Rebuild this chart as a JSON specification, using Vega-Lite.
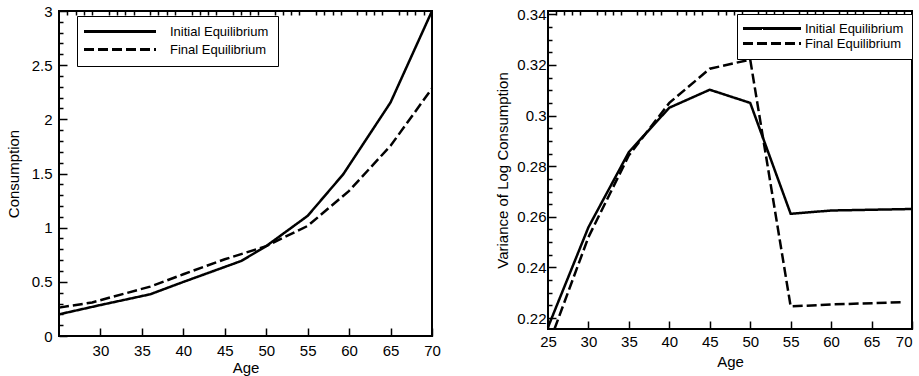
{
  "$schema": "https://vega.github.io/schema/vega-lite/v6.json",
  "background": "white",
  "padding": {"left": 5, "top": 3, "right": 5, "bottom": 5},
  "config": {
    "font": "Liberation Sans",
    "view": {"stroke": "black", "strokeWidth": 2, "fill": "transparent", "fillOpacity": 0},
    "style": {"cell": {"fill": "transparent", "fillOpacity": 0}},
    "axis": {"domain": false, "zindex": 1, "tickColor": "black", "tickOpacity": 1, "gridColor": "black", "gridOpacity": 1, "gridWidth": 1.5, "labelColor": "black", "titleColor": "black", "titleFontWeight": "normal", "labelFont": "Liberation Sans", "titleFont": "Liberation Sans"},
    "legend": {"labelFont": "Liberation Sans", "labelColor": "black"}
  },
  "datasets": {
    "cons": [
      {"age": 25, "value": 0.20, "series": "Initial Equilibrium"},
      {"age": 30, "value": 0.286, "series": "Initial Equilibrium"},
      {"age": 36, "value": 0.385, "series": "Initial Equilibrium"},
      {"age": 40, "value": 0.499, "series": "Initial Equilibrium"},
      {"age": 47, "value": 0.693, "series": "Initial Equilibrium"},
      {"age": 50, "value": 0.83, "series": "Initial Equilibrium"},
      {"age": 55, "value": 1.109, "series": "Initial Equilibrium"},
      {"age": 59.3, "value": 1.494, "series": "Initial Equilibrium"},
      {"age": 65, "value": 2.156, "series": "Initial Equilibrium"},
      {"age": 70, "value": 3.0, "series": "Initial Equilibrium"},
      {"age": 25, "value": 0.262, "series": "Final Equilibrium"},
      {"age": 29, "value": 0.31, "series": "Final Equilibrium"},
      {"age": 36, "value": 0.456, "series": "Final Equilibrium"},
      {"age": 40, "value": 0.57, "series": "Final Equilibrium"},
      {"age": 45, "value": 0.708, "series": "Final Equilibrium"},
      {"age": 50, "value": 0.83, "series": "Final Equilibrium"},
      {"age": 55, "value": 1.016, "series": "Final Equilibrium"},
      {"age": 60, "value": 1.34, "series": "Final Equilibrium"},
      {"age": 65, "value": 1.756, "series": "Final Equilibrium"},
      {"age": 70, "value": 2.285, "series": "Final Equilibrium"}
    ],
    "var": [
      {"age": 25, "value": 0.2164, "series": "Initial Equilibrium"},
      {"age": 30, "value": 0.2559, "series": "Initial Equilibrium"},
      {"age": 35, "value": 0.2856, "series": "Initial Equilibrium"},
      {"age": 40, "value": 0.3031, "series": "Initial Equilibrium"},
      {"age": 45, "value": 0.3102, "series": "Initial Equilibrium"},
      {"age": 50, "value": 0.305, "series": "Initial Equilibrium"},
      {"age": 55, "value": 0.2612, "series": "Initial Equilibrium"},
      {"age": 60, "value": 0.2625, "series": "Initial Equilibrium"},
      {"age": 70, "value": 0.2631, "series": "Initial Equilibrium"},
      {"age": 25.8, "value": 0.2157, "series": "Final Equilibrium"},
      {"age": 30, "value": 0.252, "series": "Final Equilibrium"},
      {"age": 35, "value": 0.2843, "series": "Final Equilibrium"},
      {"age": 40, "value": 0.305, "series": "Final Equilibrium"},
      {"age": 45, "value": 0.3185, "series": "Final Equilibrium"},
      {"age": 50, "value": 0.3221, "series": "Final Equilibrium"},
      {"age": 55, "value": 0.2246, "series": "Final Equilibrium"},
      {"age": 60, "value": 0.2254, "series": "Final Equilibrium"},
      {"age": 69, "value": 0.2263, "series": "Final Equilibrium"}
    ]
  },
  "hconcat": [
    {
      "width": 373,
      "height": 325,
      "data": {"name": "cons"},
      "layer": [
        {
          "mark": {"type": "line", "color": "black", "strokeWidth": 2.5},
          "encoding": {
            "x": {"field": "age", "type": "quantitative", "scale": {"domain": [25, 70], "nice": false, "zero": false},
              "axis": {"title": "Age", "orient": "bottom", "zindex": 1, "values": [30, 35, 40, 45, 50, 55, 60, 65, 70], "grid": false, "offset": -8, "tickSize": 8, "tickWidth": 1.5, "labelFontSize": 15, "titleFontSize": 15, "labelPadding": 7, "titlePadding": 2, "labelFlush": false}},
            "y": {"field": "value", "type": "quantitative", "scale": {"domain": [0, 3], "nice": false},
              "axis": {"title": "Consumption", "orient": "left", "zindex": 1, "values": [0, 0.5, 1, 1.5, 2, 2.5, 3], "format": "~g", "grid": false, "offset": -8, "tickSize": 8, "tickWidth": 1.5, "labelFontSize": 15, "titleFontSize": 15, "labelPadding": 7, "titlePadding": 10}},
            "strokeDash": {"field": "series", "type": "nominal", "sort": ["Initial Equilibrium", "Final Equilibrium"],
              "scale": {"domain": ["Initial Equilibrium", "Final Equilibrium"], "range": [[1, 0], [10, 4]]},
              "legend": {"title": null, "orient": "none", "legendX": 18, "legendY": 5, "strokeColor": "black", "fillColor": "white", "padding": 9, "symbolType": "M-8,0H8", "symbolSize": 81, "symbolOffset": 27.5, "symbolStrokeWidth": 3, "symbolStrokeColor": "black", "labelFontSize": 13, "labelOffset": 43.5, "rowPadding": 4, "zindex": 2}}
          }
        },
        {
          "mark": {"type": "line", "strokeOpacity": 0},
          "encoding": {
            "x": {"field": "age", "type": "quantitative",
              "axis": {"title": null, "orient": "bottom", "zindex": 1, "values": [26,27,28,29,31,32,33,34,36,37,38,39,41,42,43,44,46,47,48,49,51,52,53,54,56,57,58,59,61,62,63,64,66,67,68,69], "labels": false, "ticks": false, "grid": true, "gridDash": [4, 2000]}},
            "y": {"field": "value", "type": "quantitative",
              "axis": {"title": null, "orient": "left", "zindex": 1, "values": [0.1,0.2,0.3,0.4,0.6,0.7,0.8,0.9,1.1,1.2,1.3,1.4,1.6,1.7,1.8,1.9,2.1,2.2,2.3,2.4,2.6,2.7,2.8,2.9], "labels": false, "ticks": false, "grid": true, "gridDash": [4, 2000]}}
          }
        }
      ],
      "resolve": {"axis": {"x": "independent", "y": "independent"}}
    },
    {
      "width": 364,
      "height": 318,
      "data": {"name": "var"},
      "layer": [
        {
          "mark": {"type": "line", "color": "black", "strokeWidth": 2.5},
          "encoding": {
            "x": {"field": "age", "type": "quantitative", "scale": {"domain": [25, 70], "nice": false, "zero": false},
              "axis": {"title": "Age", "orient": "bottom", "zindex": 1, "values": [25, 30, 35, 40, 45, 50, 55, 60, 65, 70], "grid": false, "offset": -8, "tickSize": 8, "tickWidth": 1.5, "labelFontSize": 15, "titleFontSize": 15, "labelPadding": 5, "titlePadding": 5, "labelFlush": false, "labelAlign": {"condition": {"test": "datum.value == 70", "value": "right"}, "value": "center"}}},
            "y": {"field": "value", "type": "quantitative", "scale": {"domain": [0.2157, 0.3413], "nice": false, "zero": false},
              "axis": {"title": "Variance of Log Consumption", "orient": "left", "zindex": 1, "values": [0.22, 0.24, 0.26, 0.28, 0.3, 0.32, 0.34], "format": "~g", "grid": false, "offset": -8, "tickSize": 8, "tickWidth": 1.5, "labelFontSize": 15, "titleFontSize": 15, "labelPadding": 2, "titlePadding": 6}},
            "strokeDash": {"field": "series", "type": "nominal", "sort": ["Initial Equilibrium", "Final Equilibrium"],
              "scale": {"domain": ["Initial Equilibrium", "Final Equilibrium"], "range": [[1, 0], [10, 4]]},
              "legend": {"title": null, "orient": "none", "legendX": 189, "legendY": 3, "strokeColor": "black", "fillColor": "white", "padding": 8, "symbolType": "M-8,0H8", "symbolSize": 52.6, "symbolOffset": 20.5, "symbolStrokeWidth": 3, "symbolStrokeColor": "black", "labelFontSize": 13, "labelOffset": 26.5, "rowPadding": 1, "zindex": 2}}
          }
        },
        {
          "mark": {"type": "line", "strokeOpacity": 0},
          "encoding": {
            "x": {"field": "age", "type": "quantitative",
              "axis": {"title": null, "orient": "bottom", "zindex": 1, "values": [26,27,28,29,31,32,33,34,36,37,38,39,41,42,43,44,46,47,48,49,51,52,53,54,56,57,58,59,61,62,63,64,66,67,68,69], "labels": false, "ticks": false, "grid": true, "gridDash": [4, 2000]}},
            "y": {"field": "value", "type": "quantitative",
              "axis": {"title": null, "orient": "left", "zindex": 1, "values": [0.225,0.23,0.235,0.245,0.25,0.255,0.265,0.27,0.275,0.285,0.29,0.295,0.305,0.31,0.315,0.325,0.33,0.335], "labels": false, "ticks": false, "grid": true, "gridDash": [4, 2000]}}
          }
        }
      ],
      "resolve": {"axis": {"x": "independent", "y": "independent"}}
    }
  ],
  "resolve": {"scale": {"strokeDash": "independent"}, "legend": {"strokeDash": "independent"}},
  "spacing": 116,
  "bounds": "flush"
}
